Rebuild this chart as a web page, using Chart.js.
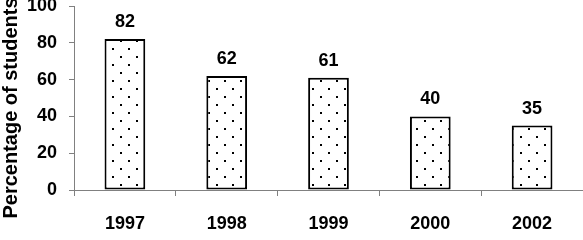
<!DOCTYPE html>
<html><head><meta charset="utf-8">
<script src="https://cdn.jsdelivr.net/npm/chart.js@4/dist/chart.umd.min.js"></script>
<style>html,body{margin:0;padding:0;background:#fff}canvas{display:block}</style>
</head><body>
<canvas id="c" width="583" height="240"></canvas>
<script>
const categories = ['1997', '1998', '1999', '2000', '2002'];
const percentages = [82, 62, 61, 40, 35];
const yTicks = [0, 20, 40, 60, 80, 100];
const yTitle = 'Percentage of students';

const FONT = '"Liberation Sans", Arial, sans-serif';

function makePattern() {
  const p = document.createElement('canvas');
  p.width = 16; p.height = 16;
  const g = p.getContext('2d');
  g.fillStyle = '#fff'; g.fillRect(0, 0, 16, 16);
  g.fillStyle = '#000';
  g.fillRect(0, 0, 2, 2);
  g.fillRect(8, 8, 2, 2);
  return document.getElementById('c').getContext('2d').createPattern(p, 'repeat');
}

const labelsPlugin = {
  id: 'labels',
  afterDatasetsDraw(chart) {
    const ctx = chart.ctx;
    const meta = chart.getDatasetMeta(0);
    ctx.save();
    ctx.font = 'bold 18px ' + FONT;
    ctx.fillStyle = '#000';
    ctx.textAlign = 'center';
    ctx.textBaseline = 'alphabetic';
    meta.data.forEach((bar, i) => {
      ctx.fillText(String(percentages[i]), bar.x, bar.y - 12);
    });
    ctx.restore();
    ctx.save();
    ctx.font = 'bold 20px ' + FONT;
    ctx.fillStyle = '#000';
    ctx.translate(17, 108);
    ctx.rotate(-Math.PI / 2);
    ctx.textAlign = 'center';
    ctx.textBaseline = 'alphabetic';
    ctx.fillText(yTitle, 0, 0);
    ctx.restore();
  }
};

new Chart(document.getElementById('c'), {
  type: 'bar',
  data: {
    labels: categories,
    datasets: [{
      data: percentages,
      backgroundColor: makePattern(),
      borderColor: '#000',
      borderWidth: 2,
      borderSkipped: false,
      barPercentage: 0.4,
      categoryPercentage: 1.0
    }]
  },
  options: {
    responsive: false,
    animation: false,
    devicePixelRatio: 1,
    layout: { padding: { top: 6, right: 0, left: 0, bottom: 0 } },
    plugins: { legend: { display: false }, tooltip: { enabled: false } },
    scales: {
      x: {
        grid: { drawOnChartArea: false, drawTicks: true, tickLength: 6, color: '#808080', offset: true },
        border: { display: true, color: '#808080', width: 1 },
        ticks: { font: { family: FONT, size: 18, weight: 'bold' }, color: '#000', padding: 17 },
        afterFit(s) { s.height = 50; s.paddingLeft = 0; s.paddingRight = 0; }
      },
      y: {
        min: 0, max: 100,
        afterBuildTicks(s) { s.ticks = yTicks.map(v => ({ value: v })); },
        grid: { drawOnChartArea: false, drawTicks: true, tickLength: 5, color: '#808080' },
        border: { display: true, color: '#808080', width: 1 },
        ticks: { font: { family: FONT, size: 18, weight: 'bold' }, color: '#000', padding: 12 },
        afterFit(s) { s.width = 74; s.paddingTop = 0; s.paddingBottom = 0; }
      }
    }
  },
  plugins: [labelsPlugin]
});
</script>
</body></html>
